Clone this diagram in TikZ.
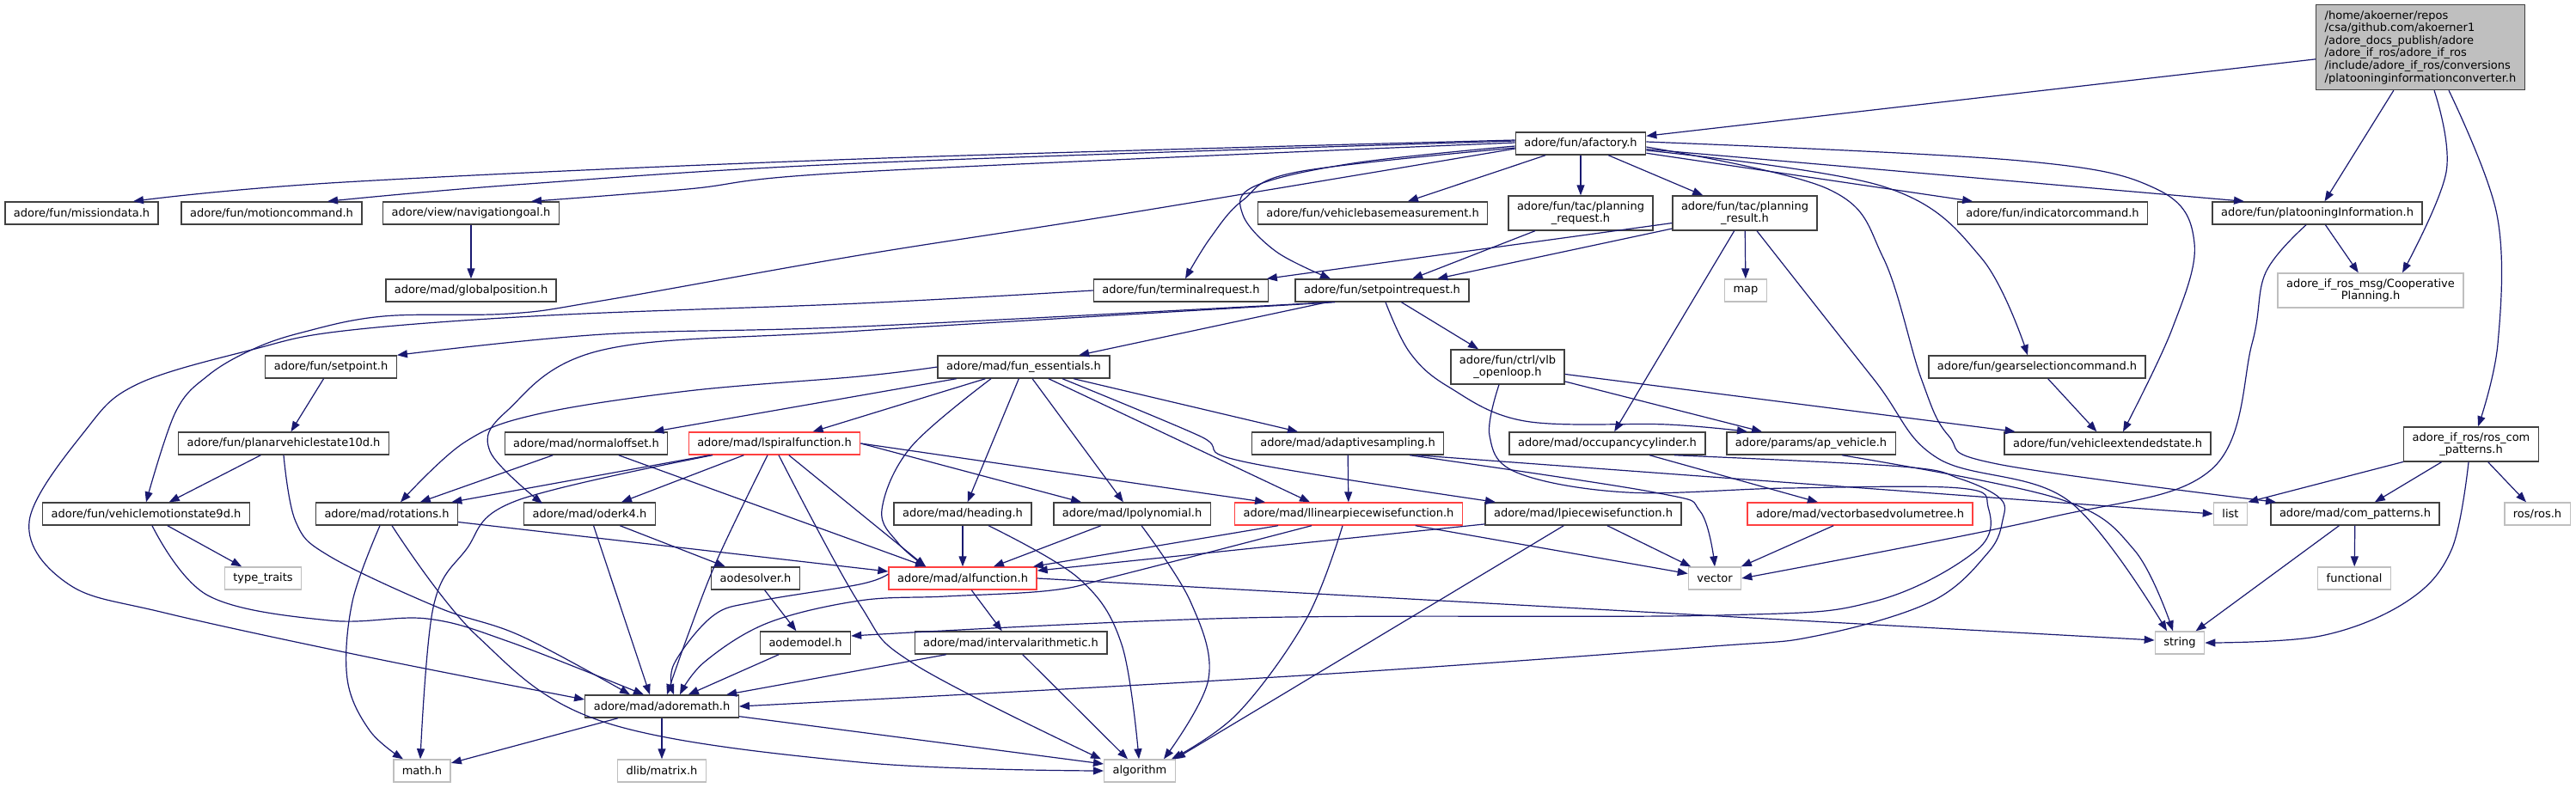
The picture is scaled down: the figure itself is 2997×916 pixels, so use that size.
\documentclass[tikz,border=0pt]{standalone}
\usepackage{fontspec}
\setmainfont{DejaVu Sans}
\usetikzlibrary{arrows.meta}

\definecolor{incblue}{HTML}{191970}
\definecolor{boxedge}{HTML}{404040}
\definecolor{sysedge}{HTML}{BFBFBF}
\definecolor{cutedge}{HTML}{FF4040}

\begin{document}
\begin{tikzpicture}[x=1pt, y=-1pt,
  %% Project header (black frame)
  filebox/.style={draw=boxedge, line width=1.4pt, fill=white,
                  font=\fontsize{13}{14.6}\selectfont, align=center,
                  inner xsep=10pt, inner ysep=2pt, minimum height=26pt},
  %% System header (grey frame)
  sysbox/.style={filebox, draw=sysedge},
  %% Truncated header (red frame)
  cutbox/.style={filebox, draw=cutedge},
  twoline/.style={minimum height=40pt},
  %% The documented file itself
  rootbox/.style={filebox, fill=sysedge, align=left, minimum height=99pt},
  %% Include arrow
  arr/.style={-{Triangle[length=12pt, width=9pt]}, incblue, line width=1.2pt},
  crv/.style={smooth, tension=0.6}
]
\useasboundingbox (0,0) rectangle (2997,916);

%% ── Top: the file and afactory.h ─────────────────────────────────────
\node[rootbox] (root) at (2816,55) {/home/akoerner/repos\\/csa/github.com/akoerner1\\/adore\_docs\_publish/adore\\/adore\_if\_ros/adore\_if\_ros\\/include/adore\_if\_ros/conversions\\/platooninginformationconverter.h};
\node[filebox] (afac) at (1839,167) {adore/fun/afactory.h};

%% ── Row 1 ────────────────────────────────────────────────────────────
\node[filebox] (mdata)    at (95,248)   {adore/fun/missiondata.h};
\node[filebox] (mcmd)     at (316,248)  {adore/fun/motioncommand.h};
\node[filebox] (navgoal)  at (548,248)  {adore/view/navigationgoal.h};
\node[filebox] (vbm)      at (1597,248) {adore/fun/vehiclebasemeasurement.h};
\node[filebox, twoline] (preq) at (1839,248) {adore/fun/tac/planning\\\_request.h};
\node[filebox, twoline] (pres) at (2030,248) {adore/fun/tac/planning\\\_result.h};
\node[filebox] (indcmd)   at (2388,248) {adore/fun/indicatorcommand.h};
\node[filebox] (platinfo) at (2696,248) {adore/fun/platooningInformation.h};

%% ── Row 2 ────────────────────────────────────────────────────────────
\node[filebox] (gpos)    at (548,338)  {adore/mad/globalposition.h};
\node[filebox] (termreq) at (1374,338) {adore/fun/terminalrequest.h};
\node[filebox] (spreq)   at (1608,338) {adore/fun/setpointrequest.h};
\node[sysbox]  (map)     at (2031,338) {map};
\node[sysbox, twoline] (coop) at (2758,338) {adore\_if\_ros\_msg/Cooperative\\Planning.h};

%% ── Row 3 ────────────────────────────────────────────────────────────
\node[filebox] (setpt)   at (385,427)  {adore/fun/setpoint.h};
\node[filebox] (funess)  at (1191,427) {adore/mad/fun\_essentials.h};
\node[filebox, twoline] (vlb) at (1754,427) {adore/fun/ctrl/vlb\\\_openloop.h};
\node[filebox] (gearsel) at (2370,427) {adore/fun/gearselectioncommand.h};

%% ── Row 4 ────────────────────────────────────────────────────────────
\node[filebox] (pvs10)   at (330,516)  {adore/fun/planarvehiclestate10d.h};
\node[filebox] (normoff) at (682,516)  {adore/mad/normaloffset.h};
\node[cutbox]  (lspiral) at (901,516)  {adore/mad/lspiralfunction.h};
\node[filebox] (adsamp)  at (1568,516) {adore/mad/adaptivesampling.h};
\node[filebox] (occcyl)  at (1870,516) {adore/mad/occupancycylinder.h};
\node[filebox] (apveh)   at (2107,516) {adore/params/ap\_vehicle.h};
\node[filebox] (vext)    at (2452,516) {adore/fun/vehicleextendedstate.h};
\node[filebox, twoline] (roscp) at (2875,517) {adore\_if\_ros/ros\_com\\\_patterns.h};

%% ── Row 5 ────────────────────────────────────────────────────────────
\node[filebox] (vms9)    at (170,598)  {adore/fun/vehiclemotionstate9d.h};
\node[filebox] (rot)     at (450,598)  {adore/mad/rotations.h};
\node[filebox] (oderk)   at (686,598)  {adore/mad/oderk4.h};
\node[filebox] (heading) at (1120,598) {adore/mad/heading.h};
\node[filebox] (lpoly)   at (1317,598) {adore/mad/lpolynomial.h};
\node[cutbox]  (llpw)    at (1569,598) {adore/mad/llinearpiecewisefunction.h};
\node[filebox] (lpw)     at (1842,598) {adore/mad/lpiecewisefunction.h};
\node[cutbox]  (vbvt)    at (2164,598) {adore/mad/vectorbasedvolumetree.h};
\node[sysbox]  (list)    at (2595,598) {list};
\node[filebox] (compat)  at (2740,598) {adore/mad/com\_patterns.h};
\node[sysbox]  (ros)     at (2952,598) {ros/ros.h};

%% ── Rows 6 to 9 ──────────────────────────────────────────────────────
\node[sysbox]  (ttraits)  at (306,673)  {type\_traits};
\node[filebox] (aodes)    at (879,673)  {aodesolver.h};
\node[cutbox]  (alfun)    at (1120,673) {adore/mad/alfunction.h};
\node[sysbox]  (vector)   at (1995,673) {vector};
\node[sysbox]  (functional) at (2739,673) {functional};
\node[filebox] (aodem)    at (937,748)  {aodemodel.h};
\node[filebox] (intarith) at (1176,748) {adore/mad/intervalarithmetic.h};
\node[sysbox]  (string)   at (2536,748) {string};
\node[filebox] (amath)    at (770,822)  {adore/mad/adoremath.h};
\node[sysbox]  (math)     at (491,897)  {math.h};
\node[sysbox]  (dlib)     at (770,897)  {dlib/matrix.h};
\node[sysbox]  (algo)     at (1326,897) {algorithm};

%% ── Arrows from the file ─────────────────────────────────────────────
\draw[arr] (root) -- (afac);
\draw[arr] (root) -- (platinfo);
\draw[arr] plot[crv] coordinates {([xshift=16pt]root.south) (2846,200) ([xshift=37pt]coop.north)};
\draw[arr] plot[crv] coordinates {([xshift=33pt]root.south) (2905,250) (2906,400) ([xshift=8pt]roscp.north)};

%% ── Arrows from afactory.h ───────────────────────────────────────────
\draw[arr] plot[crv] coordinates {([yshift=4pt]afac.west) (1000,185) (400,212) ([xshift=60pt]mdata.north)};
\draw[arr] plot[crv] coordinates {([yshift=3pt]afac.west) (1000,190) (600,215) ([xshift=65pt]mcmd.north)};
\draw[arr] plot[crv] coordinates {([yshift=1pt]afac.west) (1000,200) (800,220) ([xshift=70pt]navgoal.north)};
\draw[arr] plot[crv] coordinates {([yshift=-6pt]afac.west) (1300,250) (1000,297) (700,350) (593,365) (446,368) (351,387) (293,407) (242,437) (204,480) (vms9.north)};
\draw[arr] (afac) -- (vbm);
\draw[arr] (afac) -- (preq);
\draw[arr] (afac) -- (pres);
\draw[arr] (afac) -- (indcmd);
\draw[arr] (afac) -- ([xshift=-85pt]platinfo.north);
\draw[arr] plot[crv] coordinates {([yshift=-5pt]afac.west) (1510,200) (1446,233) (1408,277) ([xshift=5pt]termreq.north)};
\draw[arr] plot[crv] coordinates {([yshift=-3pt]afac.west) (1574,190) (1459,217) (1446,250) (1485,293) ([xshift=-60pt]spreq.north)};
\draw[arr] plot[crv] coordinates {([yshift=2pt]afac.east) (2350,187) (2509,220) (2553,283) (2527,383) ([xshift=18pt]vext.north)};
\draw[arr] plot[crv] coordinates {([yshift=-4pt]afac.east) (2127,220) (2191,300) (2235,440) (2267,507) (2324,540) ([xshift=-92pt]compat.north)};
\draw[arr] plot[crv] coordinates {([yshift=-8pt]afac.east) (2191,217) (2305,300) ([xshift=-11pt]gearsel.north)};

%% ── Rows 1 and 2 ─────────────────────────────────────────────────────
\draw[arr] (navgoal) -- (gpos);
\draw[arr] (preq) -- (spreq);
\draw[arr] (pres) -- (termreq);
\draw[arr] (pres) -- (spreq);
\draw[arr] (pres) -- (map);
\draw[arr] (pres) -- (occcyl);
\draw[arr] plot[crv] coordinates {([xshift=14pt]pres.south) (2179,440) (2254,533) (2407,583) ([xshift=-15pt]string.north)};
\draw[arr] (platinfo) -- (coop);
\draw[arr] plot[crv] coordinates {([xshift=-13pt]platinfo.south) (2636,317) (2620,400) (2572,547) (2381,603) (vector.east)};
\draw[arr] plot[crv] coordinates {(termreq.west) (1000,353) (638,367) (400,385) (293,407) (160,447) (100,500) (34,607) (80,680) (191,713) (430,765) ([yshift=8pt]amath.west)};
\draw[arr] plot[crv] coordinates {([xshift=-60pt]spreq.south) (1000,380) (702,389) (setpt.north east)};
\draw[arr] plot[crv] coordinates {([xshift=-55pt]spreq.south) (1000,385) (702,407) (590,478) (570,525) (631,586)};
\draw[arr] (spreq) -- (funess);
\draw[arr] (spreq) -- (vlb);
\draw[arr] plot[crv] coordinates {([xshift=4pt]spreq.south) (1640,410) (1685,450) (1774,490) (1940,494) ([xshift=-74pt]apveh.north)};

%% ── Row 3 ────────────────────────────────────────────────────────────
\draw[arr] (gearsel) -- (vext);
\draw[arr] (setpt) -- (pvs10);
\draw[arr] plot[crv] coordinates {(funess.west) (1000,438) (800,455) (625,482) (540,515) ([xshift=16pt]rot.north)};
\draw[arr] (funess) -- (normoff);
\draw[arr] (funess) -- (lspiral);
\draw[arr] plot[crv] coordinates {([xshift=-38pt]funess.south) (1060,520) (1026,593) (1045,632) ([xshift=-43pt]alfun.north)};
\draw[arr] (funess) -- (heading);
\draw[arr] (funess) -- (lpoly);
\draw[arr] (funess) -- ([xshift=-45pt]llpw.north);
\draw[arr] plot[crv] coordinates {([xshift=45pt]funess.south) (1395,507) (1446,537) ([xshift=-102pt]lpw.north)};
\draw[arr] (funess) -- (adsamp);
\draw[arr] (vlb) -- ([xshift=-57pt]apveh.north);
\draw[arr] (vlb) -- (vext);
\draw[arr] plot[crv] coordinates {([xshift=-10pt]vlb.south) (1733,507) (1765,550) (1893,573) (2080,568) (2280,568) (2313,590) (2300,640) (2180,700) (2000,716) (1446,719) ([yshift=8pt]aodem.east)};

%% ── Row 4 ────────────────────────────────────────────────────────────
\draw[arr] (occcyl) -- (vbvt);
\draw[arr] plot[crv] coordinates {([xshift=78pt]occcyl.south) (2213,543) (2280,557) (2327,580) (2330,605) (2313,643) (2247,700) (2113,740) (1980,753) (1500,787) (amath.east)};
\draw[arr] (adsamp) -- (llpw);
\draw[arr] ([xshift=80pt]adsamp.south) -- (list.west);
\draw[arr] plot[crv] coordinates {([xshift=72pt]adsamp.south) (1925,573) (1978,595) (vector.north)};
\draw[arr] (normoff) -- (rot);
\draw[arr] (normoff) -- ([xshift=-43pt]alfun.north);
\draw[arr] (lspiral) -- (rot);
\draw[arr] plot[crv] coordinates {([xshift=-72pt]lspiral.south) (600,583) (542,640) (504,707) ([xshift=-2pt]math.north)};
\draw[arr] (lspiral) -- ([xshift=37pt]oderk.north);
\draw[arr] plot[crv] coordinates {([xshift=-8pt]lspiral.south) (835,650) (800,740) ([xshift=6pt]amath.north)};
\draw[arr] plot[crv] coordinates {([xshift=5pt]lspiral.south) (1000,703) (1064,773) ([xshift=-45pt]algo.north)};
\draw[arr] (lspiral) -- ([xshift=-43pt]alfun.north);
\draw[arr] (lspiral.east) -- ([xshift=-59pt]lpoly.north);
\draw[arr] (lspiral.east) -- ([xshift=-97pt]llpw.north);
\draw[arr] (pvs10) -- (vms9);
\draw[arr] plot[crv] coordinates {(pvs10.south) (344,607) (383,647) (510,707) (606,740) ([xshift=-37pt]amath.north)};
\draw[arr] plot[crv] coordinates {([xshift=36pt]apveh.south) (2394,580) (2483,640) ([xshift=-8pt]string.north)};
\draw[arr] (roscp) -- (list.north east);
\draw[arr] (roscp) -- (compat);
\draw[arr] (roscp) -- (ros);
\draw[arr] plot[crv] coordinates {([xshift=-3pt]roscp.south) (2852,640) (2800,700) (2700,740) (string.east)};

%% ── Row 5 ────────────────────────────────────────────────────────────
\draw[arr] (vms9) -- (ttraits);
\draw[arr] plot[crv] coordinates {([xshift=7pt]vms9.south) (242,693) (383,722) (497,720) (593,747) ([xshift=-21pt]amath.north)};
\draw[arr] plot[crv] coordinates {([xshift=-8pt]rot.south) (410,700) (404,790) (430,850) ([xshift=-22pt]math.north)};
\draw[arr] plot[crv] coordinates {([xshift=6pt]rot.south) (555,740) (702,840) (1000,887) (algo.west)};
\draw[arr] (rot) -- ([yshift=8pt]alfun.west);
\draw[arr] (oderk) -- ([xshift=-14pt]amath.north);
\draw[arr] (oderk) -- (aodes);
\draw[arr] (heading) -- (alfun);
\draw[arr] plot[crv] coordinates {([xshift=30pt]heading.south) (1255,673) (1305,750) ([xshift=-1pt]algo.north)};
\draw[arr] (lpoly) -- (alfun);
\draw[arr] plot[crv] coordinates {([xshift=11pt]lpoly.south) (1385,700) (1406,790) ([xshift=28pt]algo.north)};
\draw[arr] (llpw) -- (alfun);
\draw[arr] plot[crv] coordinates {([xshift=-43pt]llpw.south) (1300,670) (1223,687) (1100,694) (1000,699) (893,725) (820,770) ([xshift=21pt]amath.north)};
\draw[arr] plot[crv] coordinates {([xshift=-7pt]llpw.south) (1520,720) (1440,830) ([xshift=37pt]algo.north)};
\draw[arr] (llpw) -- (vector);
\draw[arr] (lpw) -- (alfun);
\draw[arr] (lpw) -- ([xshift=41pt]algo.north);
\draw[arr] (lpw) -- (vector);
\draw[arr] (vbvt) -- (vector);
\draw[arr] (compat) -- (string);
\draw[arr] (compat) -- (functional);

%% ── Rows 6 to 8 ──────────────────────────────────────────────────────
\draw[arr] (aodes) -- (aodem);
\draw[arr] plot[crv] coordinates {([yshift=5pt]alfun.west) (1000,680) (880,700) (829,717) (784,773) ([xshift=14pt]amath.north)};
\draw[arr] (alfun) -- (intarith);
\draw[arr] (alfun.east) -- ([yshift=3pt]string.west);
\draw[arr] (aodem) -- (amath);
\draw[arr] (intarith) -- (amath);
\draw[arr] (intarith) -- ([xshift=-14pt]algo.north);
\draw[arr] (amath) -- (math);
\draw[arr] (amath) -- (dlib);
\draw[arr] (amath) -- ([yshift=8pt]algo.west);

\end{tikzpicture}
\end{document}
